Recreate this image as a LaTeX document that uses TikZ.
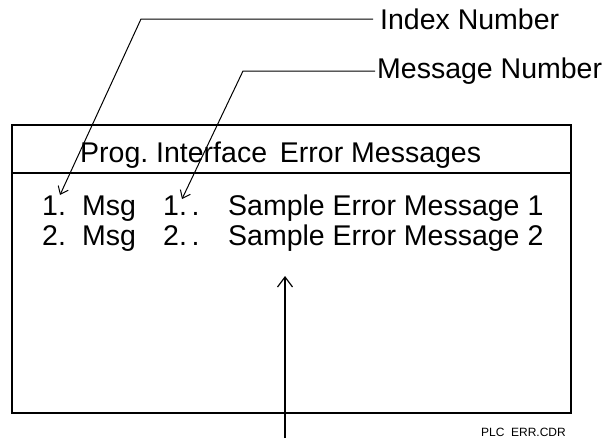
\documentclass[tikz,border=0pt]{standalone}
\usepackage{fontspec}
\setmainfont{Liberation Sans}
\usetikzlibrary{arrows.meta}
\tikzset{
  big/.style={inner sep=0pt, anchor=base west, font=\fontsize{28.5}{30}\selectfont},
  small/.style={inner sep=0pt, anchor=base east, font=\fontsize{12}{13}\selectfont},
  frame/.style={line width=1.3pt},
  leader/.style={line width=1pt, -{Straight Barb[length=7pt,width=11pt,line width=1pt]}},
  pointer/.style={line width=1.2pt, -{Straight Barb[length=10pt,width=15pt,line width=1.2pt]}}
}
\begin{document}
\begin{tikzpicture}[x=1pt,y=-1pt]
\useasboundingbox (0,0) rectangle (611,439);
% frame
\coordinate (tl) at (12,125);
\coordinate (br) at (571,413);
\draw[frame] (tl) rectangle (br);
\coordinate (dl) at (12,173);
\coordinate (dr) at (571,173);
\draw[frame] (dl) -- (dr);
% title
\node[big] (title) at (80,162) {Prog.\ Interface\hspace{0.45em}Error Messages};
% rows
\node[big] (i1) at (42,215) {1.};
\node[big] (m1) at (82,215) {Msg};
\node[big] (n1) at (163,215) {1.\,.};
\node[big] (s1) at (228,215) {Sample Error Message 1};
\node[big] (i2) at (42,245) {2.};
\node[big] (m2) at (82,245) {Msg};
\node[big] (n2) at (163,245) {2.\,.};
\node[big] (s2) at (228,245) {Sample Error Message 2};
% leader labels
\node[big, anchor=west] (idx) at (380,19) {Index Number};
\node[big, anchor=west] (msg) at (377,71) {Message Number};
\coordinate (ic) at (141,19);
\coordinate (it) at (60,195);
\coordinate (mc) at (243,71);
\coordinate (mt) at (182,199);
\draw[leader] ([xshift=-7pt]idx.west) -- (ic) -- (it);
\draw[leader] ([xshift=-2pt]msg.west) -- (mc) -- (mt);
% pointer arrow
\coordinate (pb) at (285,438);
\coordinate (pt) at (285,276);
\draw[pointer] (pb) -- (pt);
% file name
\node[small] (file) at (566,436) {PLC\ \ ERR.CDR};
\end{tikzpicture}
\end{document}
